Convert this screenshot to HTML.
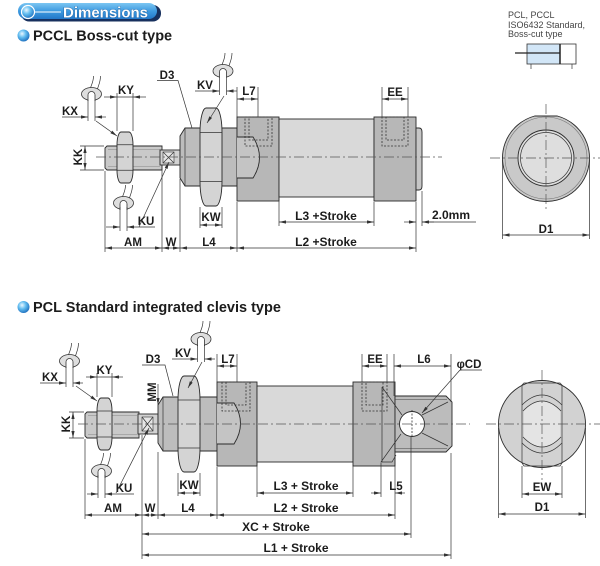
<!DOCTYPE html>
<html><head><meta charset="utf-8">
<style>
html,body{margin:0;padding:0;background:#fff;width:600px;height:566px;overflow:hidden}
svg{display:block}
text{font-family:"Liberation Sans",Arial,sans-serif;font-weight:bold;fill:#1c1c1c}
.o{stroke:#2a2a2a;stroke-width:0.9}
.t{stroke:#333;stroke-width:0.7;fill:none}
.cl{stroke:#555;stroke-width:0.7;stroke-dasharray:10 3 2 3;fill:none}
.dh{stroke:#333;stroke-width:0.8;stroke-dasharray:2 1.5;fill:none}
.lb{font-size:11.5px}
.sl{font-size:12px}
.sm{font-size:9px;font-weight:normal;fill:#444}
</style></head><body>
<svg width="600" height="566" viewBox="0 0 600 566" xmlns="http://www.w3.org/2000/svg">
<defs>
<marker id="ar" viewBox="0 0 7 4" refX="7" refY="2" markerWidth="7" markerHeight="4" markerUnits="userSpaceOnUse" orient="auto-start-reverse"><path d="M0,0.4 L7,2 L0,3.6Z" fill="#333"/></marker>
<linearGradient id="bn" x1="0" y1="0" x2="0" y2="1"><stop offset="0" stop-color="#7cc6f2"/><stop offset="0.5" stop-color="#3e9be0"/><stop offset="1" stop-color="#2378c8"/></linearGradient>
<radialGradient id="bul" cx="0.38" cy="0.35" r="0.7"><stop offset="0" stop-color="#eaf7ff"/><stop offset="0.45" stop-color="#62bdf0"/><stop offset="1" stop-color="#1b6cbc"/></radialGradient>
</defs>

<!-- HEADER -->
<rect x="21" y="5" width="140" height="16.5" rx="8" fill="#17305e"/>
<rect x="18" y="3" width="139" height="16" rx="8" fill="url(#bn)"/>
<circle cx="28" cy="12" r="6.5" fill="url(#bul)" stroke="#fff" stroke-width="1.2"/>
<line x1="35" y1="12" x2="61" y2="12" stroke="#fff" stroke-width="1"/>
<text x="63" y="17.5" style="font-size:15px;fill:#fff;stroke:#0d4c8f;stroke-width:0.6;paint-order:stroke">Dimensions</text>

<circle cx="23.5" cy="35.5" r="6" fill="url(#bul)"/>
<text x="33" y="40.5" style="font-size:14.5px">PCCL Boss-cut type</text>
<circle cx="23.5" cy="307" r="6" fill="url(#bul)"/>
<text x="33" y="312" style="font-size:14.5px">PCL Standard integrated clevis type</text>

<!-- ICON -->
<text x="508" y="18" class="sm">PCL, PCCL</text>
<text x="508" y="28" class="sm">ISO6432 Standard,</text>
<text x="508" y="37" class="sm">Boss-cut type</text>
<rect x="527" y="44" width="33" height="20" fill="#d2e6f7"/>
<rect x="527" y="44" width="49" height="20" fill="none" stroke="#333" stroke-width="0.8"/>
<line x1="560" y1="44" x2="560" y2="64" stroke="#222" stroke-width="1.5"/>
<line x1="515" y1="53" x2="560" y2="53" stroke="#222" stroke-width="1.3"/>
<line x1="531" y1="64" x2="531" y2="69" class="t"/>
<line x1="572" y1="64" x2="572" y2="69" class="t"/>

<!-- ============ DIAGRAM 1 ============ -->
<path d="M107,146 H162 V170 H107 L105,168 V148 Z" fill="#c9c9c9" class="o"/>
<line x1="108" y1="149.5" x2="160" y2="149.5" stroke="#888" stroke-width="0.5"/>
<line x1="108" y1="166.5" x2="160" y2="166.5" stroke="#888" stroke-width="0.5"/>
<rect x="160" y="150" width="20" height="15" fill="#d2d2d2" class="o"/>
<rect x="163" y="152" width="11" height="11" fill="#e6e6e6" stroke="#333" stroke-width="0.6"/>
<path d="M163,152 L174,163 M174,152 L163,163" class="t"/>
<path d="M180,136 L185,128 H237 V186 H185 L180,178 Z" fill="#bdbdbd" class="o"/>
<line x1="185" y1="128" x2="185" y2="186" class="t"/>
<path d="M117,144.75 C117,137.1 119,132 121,132 H129 C131,132 133,137.1 133,144.75 V170.25 C133,177.9 131,183 129,183 H121 C119,183 117,177.9 117,170.25 Z" fill="#d4d4d4" class="o"/>
<path d="M117,144.75 H133 M117,170.25 H133" class="t"/>
<path d="M200,132.5 C200,117.8 203,108 206,108 H216 C219,108 222,117.8 222,132.5 V181.5 C222,196.2 219,206 216,206 H206 C203,206 200,196.2 200,181.5 Z" fill="#d4d4d4" class="o"/>
<path d="M200,132.5 H222 M200,181.5 H222" class="t"/>
<rect x="237" y="117" width="42" height="84" fill="#b7b7b7" class="o"/>
<path d="M237,137 H253 Q266,157.5 253,178 H237" fill="#c4c4c4" class="o"/>
<rect x="245" y="117" width="27" height="29" class="dh"/>
<rect x="249" y="117" width="19" height="23" class="dh"/>
<rect x="279" y="119" width="95" height="78" fill="#d9d9d9" class="o"/>
<rect x="374" y="117" width="42" height="84" fill="#b7b7b7" class="o"/>
<rect x="382" y="117" width="26" height="29" class="dh"/>
<rect x="386" y="117" width="18" height="23" class="dh"/>
<path d="M416,128 H419 Q422,128 422,132 V186 Q422,190 419,190 H416 Z" fill="#c6c6c6" class="o"/>
<line x1="96" y1="157" x2="442" y2="157" class="cl"/>

<!-- wrenches d1 -->
<g transform="translate(91.5,94)"><path d="M-1,-6 C0,-10 2,-12 2,-18 M6,-5 C7,-9 9,-12 9,-18" class="t"/><ellipse rx="10" ry="6.5" fill="#dedede" stroke="#333" stroke-width="0.8"/><path d="M-3.5,7 V1 A3.5,3.5 0 0 1 3.5,1 V7" fill="#fff" stroke="#333" stroke-width="0.8"/></g>
<g transform="translate(123.5,203)"><path d="M-1,-6 C0,-10 2,-12 2,-18 M6,-5 C7,-9 9,-12 9,-18" class="t"/><ellipse rx="10" ry="6.5" fill="#dedede" stroke="#333" stroke-width="0.8"/><path d="M-3.5,7 V1 A3.5,3.5 0 0 1 3.5,1 V7" fill="#fff" stroke="#333" stroke-width="0.8"/></g>
<g transform="translate(223,71)"><path d="M-1,-6 C0,-10 2,-12 2,-18 M6,-5 C7,-9 9,-12 9,-18" class="t"/><ellipse rx="10" ry="6.5" fill="#dedede" stroke="#333" stroke-width="0.8"/><path d="M-3.5,7 V1 A3.5,3.5 0 0 1 3.5,1 V7" fill="#fff" stroke="#333" stroke-width="0.8"/></g>

<!-- dims d1 -->
<path d="M80,146 H104 M80,170 H104" class="t"/>
<line x1="85" y1="146" x2="85" y2="170" class="t" marker-start="url(#ar)" marker-end="url(#ar)"/>
<text transform="translate(78,157) rotate(-90)" x="0" y="4" text-anchor="middle" class="lb">KK</text>

<path d="M117,93 V131 M133,93 V131 M117,97 H133" class="t"/>
<line x1="104" y1="97" x2="117" y2="97" class="t" marker-end="url(#ar)"/>
<line x1="146" y1="97" x2="133" y2="97" class="t" marker-end="url(#ar)"/>
<text x="126" y="94" text-anchor="middle" class="lb">KY</text>

<path d="M88,100 V121 M95,100 V121" class="t"/>
<line x1="62" y1="117" x2="88" y2="117" class="t" marker-end="url(#ar)"/>
<line x1="106" y1="117" x2="95" y2="117" class="t" marker-end="url(#ar)"/>
<text x="70" y="115" text-anchor="middle" class="lb">KX</text>
<line x1="96" y1="121" x2="117" y2="136" class="t" marker-end="url(#ar)"/>

<text x="167" y="79" text-anchor="middle" class="lb">D3</text>
<path d="M157,80.5 H178 L192,128" class="t"/>

<path d="M219.5,78 V95 M226.5,78 V95" class="t"/>
<line x1="195" y1="91" x2="219.5" y2="91" class="t" marker-end="url(#ar)"/>
<line x1="237" y1="91" x2="226.5" y2="91" class="t" marker-end="url(#ar)"/>
<text x="205" y="89" text-anchor="middle" class="lb">KV</text>
<line x1="224" y1="96" x2="207" y2="123" class="t" marker-end="url(#ar)"/>

<path d="M237,87 V117 M258,87 V117" class="t"/>
<line x1="237" y1="99" x2="258" y2="99" class="t" marker-start="url(#ar)" marker-end="url(#ar)"/>
<text x="249" y="95" text-anchor="middle" class="lb">L7</text>
<path d="M382,87 V117 M408,87 V117" class="t"/>
<line x1="382" y1="99" x2="408" y2="99" class="t" marker-start="url(#ar)" marker-end="url(#ar)"/>
<text x="395" y="96" text-anchor="middle" class="lb">EE</text>

<path d="M279,198 V226 M374,202 V226 M422,191 V226" class="t"/>
<line x1="279" y1="222" x2="374" y2="222" class="t" marker-start="url(#ar)" marker-end="url(#ar)"/>
<text x="326" y="220" text-anchor="middle" class="sl">L3 +Stroke</text>
<line x1="404" y1="222" x2="416" y2="222" class="t" marker-end="url(#ar)"/>
<line x1="434" y1="222" x2="422" y2="222" class="t" marker-end="url(#ar)"/>
<line x1="422" y1="222" x2="476" y2="222" class="t"/>
<text x="451" y="219" text-anchor="middle" class="sl">2.0mm</text>

<path d="M200,207 V228 M222,207 V228" class="t"/>
<line x1="200" y1="225" x2="222" y2="225" class="t" marker-start="url(#ar)" marker-end="url(#ar)"/>
<text x="211" y="221" text-anchor="middle" class="lb">KW</text>

<path d="M120,207 V231 M127,207 V231" class="t"/>
<line x1="106" y1="227" x2="120" y2="227" class="t" marker-end="url(#ar)"/>
<line x1="155" y1="227" x2="127" y2="227" class="t" marker-end="url(#ar)"/>
<text x="146" y="225" text-anchor="middle" class="lb">KU</text>
<line x1="139" y1="227" x2="169" y2="162" class="t" marker-end="url(#ar)"/>

<path d="M105,171 V252 M162,166 V252 M180,179 V252 M237,202 V252 M416,202 V252" class="t"/>
<line x1="105" y1="248" x2="162" y2="248" class="t" marker-start="url(#ar)" marker-end="url(#ar)"/>
<line x1="162" y1="248" x2="180" y2="248" class="t" marker-start="url(#ar)" marker-end="url(#ar)"/>
<line x1="180" y1="248" x2="237" y2="248" class="t" marker-start="url(#ar)" marker-end="url(#ar)"/>
<line x1="237" y1="248" x2="416" y2="248" class="t" marker-start="url(#ar)" marker-end="url(#ar)"/>
<text x="133" y="246" text-anchor="middle" class="lb">AM</text>
<text x="171" y="246" text-anchor="middle" class="lb">W</text>
<text x="209" y="246" text-anchor="middle" class="lb">L4</text>
<text x="326" y="246" text-anchor="middle" class="sl">L2 +Stroke</text>

<!-- right view 1 -->
<path d="M534.7,116 A43.5,43.5 0 1 0 557.3,116 Z" fill="#c9c9c9" class="o"/>
<circle cx="546" cy="158" r="41" fill="none" stroke="#777" stroke-width="0.6"/>
<circle cx="546" cy="158" r="28" fill="#dedede" class="o"/>
<circle cx="546" cy="158" r="25.5" class="t"/>
<line x1="490" y1="158" x2="600" y2="158" class="cl"/>
<line x1="546" y1="104" x2="546" y2="212" class="cl"/>
<path d="M502.5,160 V239 M589.5,160 V239" class="t"/>
<line x1="502.5" y1="235" x2="589.5" y2="235" class="t" marker-start="url(#ar)" marker-end="url(#ar)"/>
<text x="546" y="233" text-anchor="middle" class="lb">D1</text>

<!-- ============ DIAGRAM 2 ============ -->
<path d="M87,412 H139 V438 H87 L85,436 V414 Z" fill="#c9c9c9" class="o"/>
<line x1="88" y1="415.5" x2="137" y2="415.5" stroke="#888" stroke-width="0.5"/>
<line x1="88" y1="434.5" x2="137" y2="434.5" stroke="#888" stroke-width="0.5"/>
<rect x="138" y="414" width="20" height="20" fill="#d2d2d2" class="o"/>
<rect x="142" y="417" width="11" height="14" fill="#e6e6e6" stroke="#333" stroke-width="0.6"/>
<path d="M142,417 L153,431 M153,417 L142,431" class="t"/>
<path d="M158,405 L163,397 H217 V451 H163 L158,443 Z" fill="#bdbdbd" class="o"/>
<line x1="163" y1="397" x2="163" y2="451" class="t"/>
<path d="M97,411 C97,403.2 99,398 101,398 H108 C110,398 112,403.2 112,411 V437 C112,444.8 110,450 108,450 H101 C99,450 97,444.8 97,437 Z" fill="#d4d4d4" class="o"/>
<path d="M97,411 H112 M97,437 H112" class="t"/>
<path d="M178,400 C178,385.6 181,376 184,376 H194 C197,376 200,385.6 200,400 V448 C200,462.4 197,472 194,472 H184 C181,472 178,462.4 178,448 Z" fill="#d4d4d4" class="o"/>
<path d="M178,400 H200 M178,448 H200" class="t"/>
<rect x="217" y="382" width="40" height="84" fill="#b7b7b7" class="o"/>
<path d="M217,403 H234 Q247,423.5 234,444 H217" fill="#c4c4c4" class="o"/>
<rect x="222" y="382" width="28" height="29" class="dh"/>
<rect x="226" y="382" width="20" height="23" class="dh"/>
<rect x="257" y="386" width="96" height="76" fill="#d9d9d9" class="o"/>
<rect x="353" y="382" width="42" height="84" fill="#b7b7b7" class="o"/>
<rect x="362" y="382" width="25" height="29" class="dh"/>
<rect x="366" y="382" width="17" height="23" class="dh"/>
<path d="M395,396 H446 L452,402 V446 L446,452 H395 Z" fill="#bcbcbc" class="o"/>
<path d="M395,399.5 H447 M395,448.5 H447" stroke="#444" stroke-width="0.6" fill="none"/>
<path d="M382,387 V462 M382,387 L402,415 M422,415 L448,402 M422,433 L448,446 M401,434 L381,462 H392 L396,455" class="t"/>
<circle cx="412" cy="424" r="12.5" fill="#fff" class="o"/>
<line x1="412" y1="410" x2="412" y2="438" class="dh"/>
<line x1="78" y1="424" x2="470" y2="424" class="cl"/>

<!-- wrenches d2 -->
<g transform="translate(69.5,361)"><path d="M-1,-6 C0,-10 2,-12 2,-18 M6,-5 C7,-9 9,-12 9,-18" class="t"/><ellipse rx="10" ry="6.5" fill="#dedede" stroke="#333" stroke-width="0.8"/><path d="M-3.5,7 V1 A3.5,3.5 0 0 1 3.5,1 V7" fill="#fff" stroke="#333" stroke-width="0.8"/></g>
<g transform="translate(101.5,471)"><path d="M-1,-6 C0,-10 2,-12 2,-18 M6,-5 C7,-9 9,-12 9,-18" class="t"/><ellipse rx="10" ry="6.5" fill="#dedede" stroke="#333" stroke-width="0.8"/><path d="M-3.5,7 V1 A3.5,3.5 0 0 1 3.5,1 V7" fill="#fff" stroke="#333" stroke-width="0.8"/></g>
<g transform="translate(201,339)"><path d="M-1,-6 C0,-10 2,-12 2,-18 M6,-5 C7,-9 9,-12 9,-18" class="t"/><ellipse rx="10" ry="6.5" fill="#dedede" stroke="#333" stroke-width="0.8"/><path d="M-3.5,7 V1 A3.5,3.5 0 0 1 3.5,1 V7" fill="#fff" stroke="#333" stroke-width="0.8"/></g>

<!-- dims d2 -->
<path d="M69,412 H84 M69,438 H84" class="t"/>
<line x1="73" y1="412" x2="73" y2="438" class="t" marker-start="url(#ar)" marker-end="url(#ar)"/>
<text transform="translate(66,424) rotate(-90)" x="0" y="4" text-anchor="middle" class="lb">KK</text>

<path d="M97,373 V397 M112,373 V397 M97,377 H112" class="t"/>
<line x1="86" y1="377" x2="97" y2="377" class="t" marker-end="url(#ar)"/>
<line x1="123" y1="377" x2="112" y2="377" class="t" marker-end="url(#ar)"/>
<text x="104.5" y="374" text-anchor="middle" class="lb">KY</text>

<path d="M66,367 V387 M73,367 V387" class="t"/>
<line x1="40" y1="383" x2="66" y2="383" class="t" marker-end="url(#ar)"/>
<line x1="83" y1="383" x2="73" y2="383" class="t" marker-end="url(#ar)"/>
<text x="50" y="381" text-anchor="middle" class="lb">KX</text>
<line x1="76" y1="386" x2="97" y2="401" class="t" marker-end="url(#ar)"/>

<text transform="translate(152,392) rotate(-90)" x="0" y="4" text-anchor="middle" class="lb">MM</text>
<line x1="158" y1="384" x2="158" y2="405" class="t" marker-end="url(#ar)"/>

<text x="153" y="363" text-anchor="middle" class="lb">D3</text>
<path d="M142,365 H165 L173,396" class="t"/>

<path d="M197.5,345 V362 M204.5,345 V362" class="t"/>
<line x1="172" y1="359" x2="197.5" y2="359" class="t" marker-end="url(#ar)"/>
<line x1="215" y1="359" x2="204.5" y2="359" class="t" marker-end="url(#ar)"/>
<text x="183" y="357" text-anchor="middle" class="lb">KV</text>
<line x1="202" y1="362" x2="188" y2="388" class="t" marker-end="url(#ar)"/>

<path d="M217,354 V382 M237,354 V382" class="t"/>
<line x1="217" y1="366" x2="237" y2="366" class="t" marker-start="url(#ar)" marker-end="url(#ar)"/>
<text x="228" y="363" text-anchor="middle" class="lb">L7</text>
<path d="M362,354 V382 M387,354 V382" class="t"/>
<line x1="362" y1="366" x2="387" y2="366" class="t" marker-start="url(#ar)" marker-end="url(#ar)"/>
<text x="375" y="363" text-anchor="middle" class="lb">EE</text>
<path d="M394,354 V396 M451,354 V402" class="t"/>
<line x1="394" y1="366" x2="451" y2="366" class="t" marker-start="url(#ar)" marker-end="url(#ar)"/>
<text x="424" y="363" text-anchor="middle" class="lb">L6</text>
<text x="469" y="368" text-anchor="middle" class="lb">φCD</text>
<path d="M482,370 H460" class="t"/>
<line x1="460" y1="370" x2="422" y2="413" class="t" marker-end="url(#ar)"/>

<path d="M178,473 V496 M200,473 V496" class="t"/>
<line x1="178" y1="493" x2="200" y2="493" class="t" marker-start="url(#ar)" marker-end="url(#ar)"/>
<text x="189" y="489" text-anchor="middle" class="lb">KW</text>

<path d="M98,475 V498 M105,475 V498" class="t"/>
<line x1="87" y1="494" x2="98" y2="494" class="t" marker-end="url(#ar)"/>
<line x1="134" y1="494" x2="105" y2="494" class="t" marker-end="url(#ar)"/>
<text x="124" y="492" text-anchor="middle" class="lb">KU</text>
<line x1="116" y1="493" x2="149" y2="428" class="t" marker-end="url(#ar)"/>

<path d="M257,462 V497 M353,466 V497 M381,463 V497" class="t"/>
<line x1="257" y1="493" x2="353" y2="493" class="t" marker-start="url(#ar)" marker-end="url(#ar)"/>
<text x="306" y="490" text-anchor="middle" class="sl">L3 + Stroke</text>
<line x1="371" y1="493" x2="381" y2="493" class="t" marker-end="url(#ar)"/>
<line x1="405" y1="493" x2="395" y2="493" class="t" marker-end="url(#ar)"/>
<text x="396" y="490" text-anchor="middle" class="lb">L5</text>

<path d="M85,439 V519 M142,435 V559 M158,452 V519 M217,467 V519 M395,453 V519 M411,437 V538 M451,453 V559" class="t"/>
<line x1="85" y1="515" x2="142" y2="515" class="t" marker-start="url(#ar)" marker-end="url(#ar)"/>
<line x1="142" y1="515" x2="158" y2="515" class="t" marker-start="url(#ar)" marker-end="url(#ar)"/>
<line x1="158" y1="515" x2="217" y2="515" class="t" marker-start="url(#ar)" marker-end="url(#ar)"/>
<line x1="217" y1="515" x2="395" y2="515" class="t" marker-start="url(#ar)" marker-end="url(#ar)"/>
<text x="113" y="512" text-anchor="middle" class="lb">AM</text>
<text x="150" y="512" text-anchor="middle" class="lb">W</text>
<text x="188" y="512" text-anchor="middle" class="lb">L4</text>
<text x="306" y="512" text-anchor="middle" class="sl">L2 + Stroke</text>
<line x1="142" y1="534" x2="411" y2="534" class="t" marker-start="url(#ar)" marker-end="url(#ar)"/>
<text x="276" y="531" text-anchor="middle" class="sl">XC + Stroke</text>
<line x1="142" y1="555" x2="451" y2="555" class="t" marker-start="url(#ar)" marker-end="url(#ar)"/>
<text x="296" y="552" text-anchor="middle" class="sl">L1 + Stroke</text>

<!-- right view 2 -->
<circle cx="542" cy="424" r="43.5" fill="#d2d2d2" class="o"/>
<path d="M524,410 Q542,392 560,410 V438 Q542,456 524,438 Z" fill="#e4e4e4"/>
<path d="M522,385 L524,383 H560 L562,385 V463 L560,466 H524 L522,463 Z" class="t"/>
<path d="M522,405 Q542,385 562,405 M523,411 Q542,391 561,411 M522,443 Q542,463 562,443 M523,437 Q542,457 561,437" class="t"/>
<line x1="542" y1="370" x2="542" y2="480" class="cl"/>
<line x1="486" y1="424" x2="600" y2="424" class="cl"/>
<path d="M522,466 V498 M562,466 V498" class="t"/>
<line x1="522" y1="494" x2="562" y2="494" class="t" marker-start="url(#ar)" marker-end="url(#ar)"/>
<text x="542" y="491" text-anchor="middle" class="lb">EW</text>
<path d="M498.5,428 V518 M585.5,428 V518" class="t"/>
<line x1="498.5" y1="514" x2="585.5" y2="514" class="t" marker-start="url(#ar)" marker-end="url(#ar)"/>
<text x="542" y="511" text-anchor="middle" class="lb">D1</text>
</svg>
</body></html>
